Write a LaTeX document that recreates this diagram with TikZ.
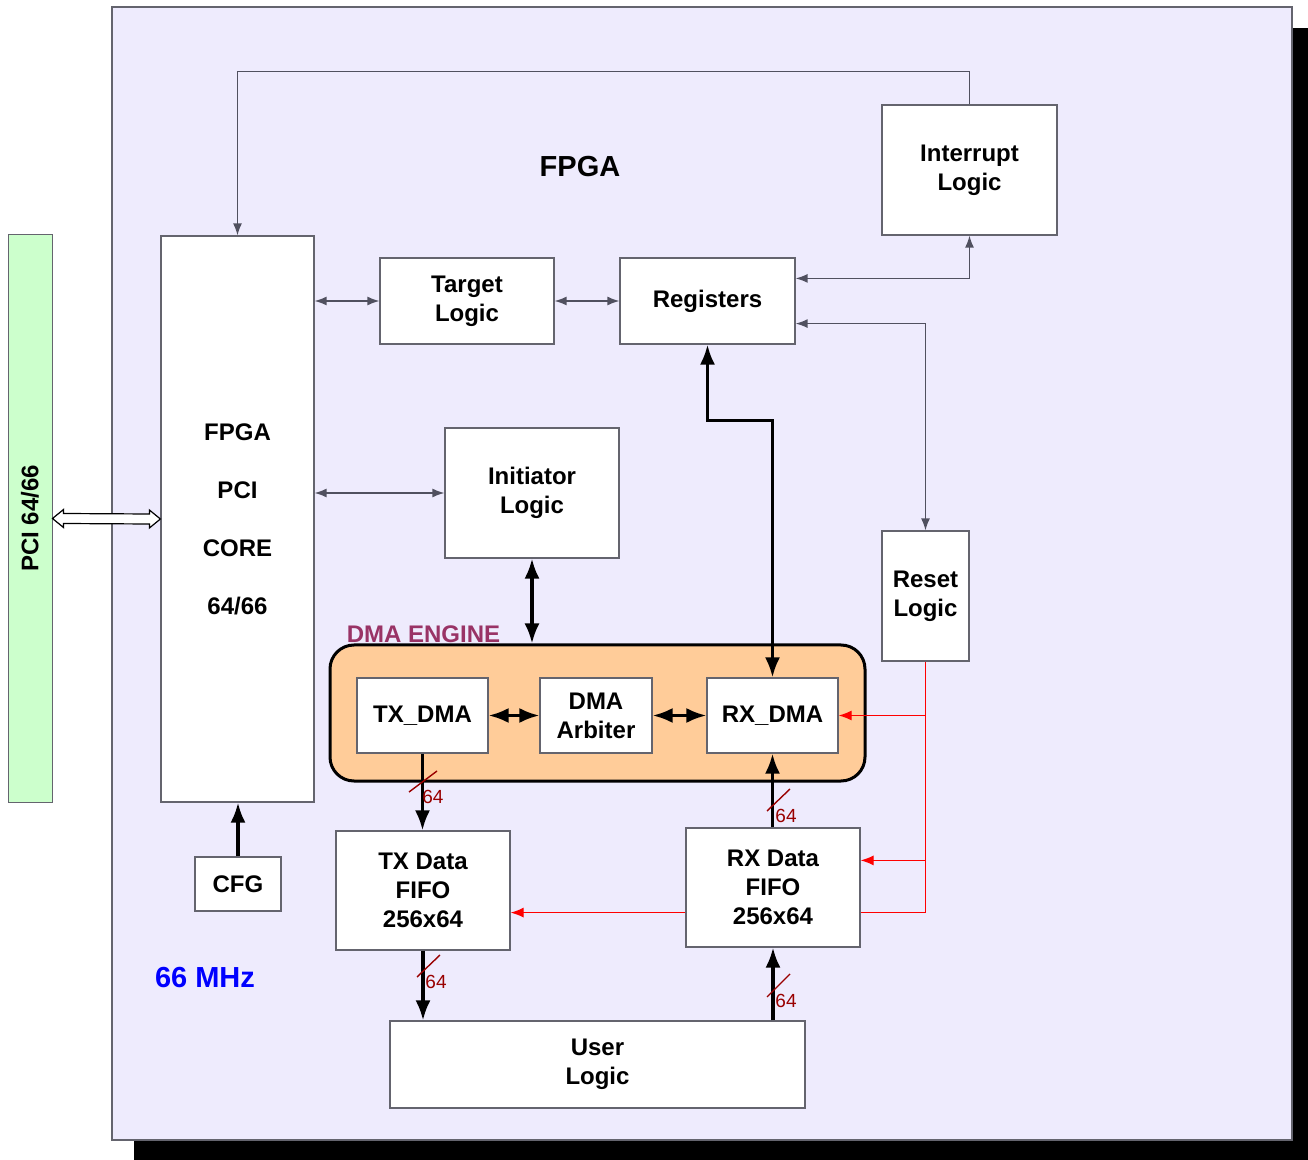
\documentclass[tikz,border=0pt]{standalone}
\usepackage{fontspec}
\setmainfont{Liberation Sans}
\usetikzlibrary{arrows.meta,fit,calc}
\definecolor{fpgabg}{RGB}{238,235,253}
\definecolor{pcigreen}{RGB}{204,255,204}
\definecolor{dmafill}{RGB}{255,204,153}
\definecolor{dmalabel}{RGB}{153,51,102}
\definecolor{boxgray}{RGB}{100,100,110}
\definecolor{linegray}{RGB}{80,80,95}
\definecolor{busred}{RGB}{153,0,0}
\begin{document}
\begin{tikzpicture}[x=0.5pt,y=-0.5pt,
  box/.style={draw=boxgray, fill=white, line width=0.6pt, inner sep=0pt},
  lbl/.style={inner sep=0pt, align=center, font=\bfseries\fontsize{12}{14.5}\selectfont},
  thinc/.style={draw=linegray, line width=0.7pt},
  tarr/.style={{Latex[length=6pt,width=4.5pt]}-{Latex[length=6pt,width=4.5pt]}},
  tend/.style={-{Latex[length=6pt,width=4.5pt]}},
  thickc/.style={draw=black, line width=1.6pt},
  karr/.style={{Latex[length=10pt,width=7.5pt]}-{Latex[length=10pt,width=7.5pt]}},
  kend/.style={-{Latex[length=10pt,width=7.5pt]}},
  redc/.style={draw=red, line width=0.6pt},
  rend/.style={-{Latex[length=6.5pt,width=5pt]}},
  bus/.style={draw=busred, line width=0.7pt},
  buslbl/.style={text=busred, font=\fontsize{9.5}{11}\selectfont, inner sep=0pt}
]
\useasboundingbox (0,0) rectangle (1308,1160);
% shadow and FPGA area
\fill[black] (134,28) rectangle (1320,1170);
\filldraw[fill=fpgabg, draw=boxgray, line width=0.6pt] (112,7) rectangle (1292,1140);

% PCI bus bar
\node[fill=pcigreen, draw=boxgray, line width=0.5pt, inner sep=0pt, fit={(8,235)(52,802)}] (pci) {};
\node[rotate=90, font=\bfseries\fontsize{12}{14}\selectfont] (pcit) at (pci.center) {PCI 64/66};

% blocks
\node[box, fit={(161,236)(314,802)}] (core) {};
\node[lbl] (coret) at ($(core.center)+(0,0)$) {FPGA\\[14.5pt]PCI\\[14.5pt]CORE\\[14.5pt]64/66};
\node[box, fit={(380,258)(554,344)}] (tgt) {};
\node[lbl] (tgtt) at (tgt.center) {Target\\Logic};
\node[box, fit={(620,258)(795,344)}] (reg) {};
\node[lbl] (regt) at (reg.center) {Registers};
\node[box, fit={(882,105)(1057,235)}] (intr) {};
\node[lbl] (intrt) at (intr.center) {Interrupt\\Logic};
\node[box, fit={(445,428)(619,558)}] (init) {};
\node[lbl] (initt) at (init.center) {Initiator\\Logic};
\node[box, fit={(882,531)(969,661)}] (reset) {};
\node[lbl] (resett) at (reset.center) {Reset\\Logic};
\node[draw=black, fill=dmafill, line width=1.5pt, rounded corners=12pt, inner sep=0pt, fit={(330,645)(865,781)}] (dma) {};
\node[box, fit={(357,678)(488,753)}] (txdma) {};
\node[lbl] (txdmat) at (txdma.center) {TX\_DMA};
\node[box, fit={(540,678)(652,753)}] (arb) {};
\node[lbl] (arbt) at (arb.center) {DMA\\Arbiter};
\node[box, fit={(707,678)(838,753)}] (rxdma) {};
\node[lbl] (rxdmat) at (rxdma.center) {RX\_DMA};
\node[box, fit={(336,831)(510,950)}] (txfifo) {};
\node[lbl] (txfifot) at (txfifo.center) {TX Data\\FIFO\\256x64};
\node[box, fit={(686,828)(860,947)}] (rxfifo) {};
\node[lbl] (rxfifot) at (rxfifo.center) {RX Data\\FIFO\\256x64};
\node[box, fit={(195,857)(281,911)}] (cfg) {};
\node[lbl] (cfgt) at (cfg.center) {CFG};
\node[box, fit={(390,1021)(805,1108)}] (user) {};
\node[lbl] (usert) at (user.center) {User\\Logic};

% labels
\node[font=\bfseries\fontsize{14.5}{17}\selectfont] (title) at (580,167) {FPGA};
\node[anchor=base, text=dmalabel, inner sep=0pt, font=\bfseries\fontsize{12}{14}\selectfont] (dmat) at (423.5,643) {DMA ENGINE};
\node[text=blue, font=\bfseries\fontsize{14.5}{17}\selectfont] (mhz) at (205,978) {66 MHz};

% hollow PCI arrow
\draw[fill=white, draw=black, line width=0.6pt]
  (pci.east) -- ++(11,-9) -- ++(0,4) -- ($(core.west)+(-11,-5)$) -- ++(0,-4) -- (core.west)
  -- ++(-11,9) -- ++(0,-4) -- ($(pci.east)+(11,5)$) -- ++(0,4) -- cycle;

% thin connectors
\draw[thinc, tarr] (core.east |- tgt.west) -- (tgt.west);
\draw[thinc, tarr] (tgt.east) -- (reg.west);
\draw[thinc, tarr] (core.east |- init.west) -- (init.west);
\draw[thinc, tarr] ($(reg.north east)+(0,21)$) -| (intr.south);
\draw[thinc, tarr] ($(reg.south east)+(0,-21)$) -| (reset.north);
\draw[thinc, tend] (intr.north) -- ++(0,-33) -| (core.north);

% thick connectors
\draw[thickc, karr] (init.south) -- (init.south |- dma.north);
\draw[thickc, karr] (reg.south) -- ++(0,76) -| (rxdma.north);
\draw[thickc, karr] (txdma.east) -- (arb.west);
\draw[thickc, karr] (arb.east) -- (rxdma.west);
\draw[thickc, kend] (txdma.south) -- (txdma.south |- txfifo.north);
\draw[thickc, kend] (rxdma.south |- rxfifo.north) -- (rxdma.south);
\draw[thickc, kend] (txfifo.south) -- (txfifo.south |- user.north);
\draw[thickc, kend] (rxfifo.south |- user.north) -- (rxfifo.south);
\draw[thickc, kend] (cfg.north) -- (cfg.north |- core.south);

% red reset lines
\draw[redc] (reset.south) |- ($(rxfifo.south east)+(0,-35)$);
\draw[redc, rend] (reset.south |- rxdma.east) -- (rxdma.east);
\draw[redc, rend] (reset.south |- {$(rxfifo.north east)+(0,33)$}) -- ($(rxfifo.north east)+(0,33)$);
\draw[redc, rend] ($(rxfifo.south west)+(0,-35)$) -- (txfifo.east |- {$(rxfifo.south west)+(0,-35)$});

% bus width markers
\draw[bus] (409,792) -- (437,771);
\node[buslbl] (b1) at (433,797) {64};
\draw[bus] (767,811) -- (790,789);
\node[buslbl] (b2) at (786,816) {64};
\draw[bus] (417,977) -- (440,955);
\node[buslbl] (b3) at (436,982) {64};
\draw[bus] (767,997) -- (790,974);
\node[buslbl] (b4) at (786,1001) {64};
\end{tikzpicture}
\end{document}
